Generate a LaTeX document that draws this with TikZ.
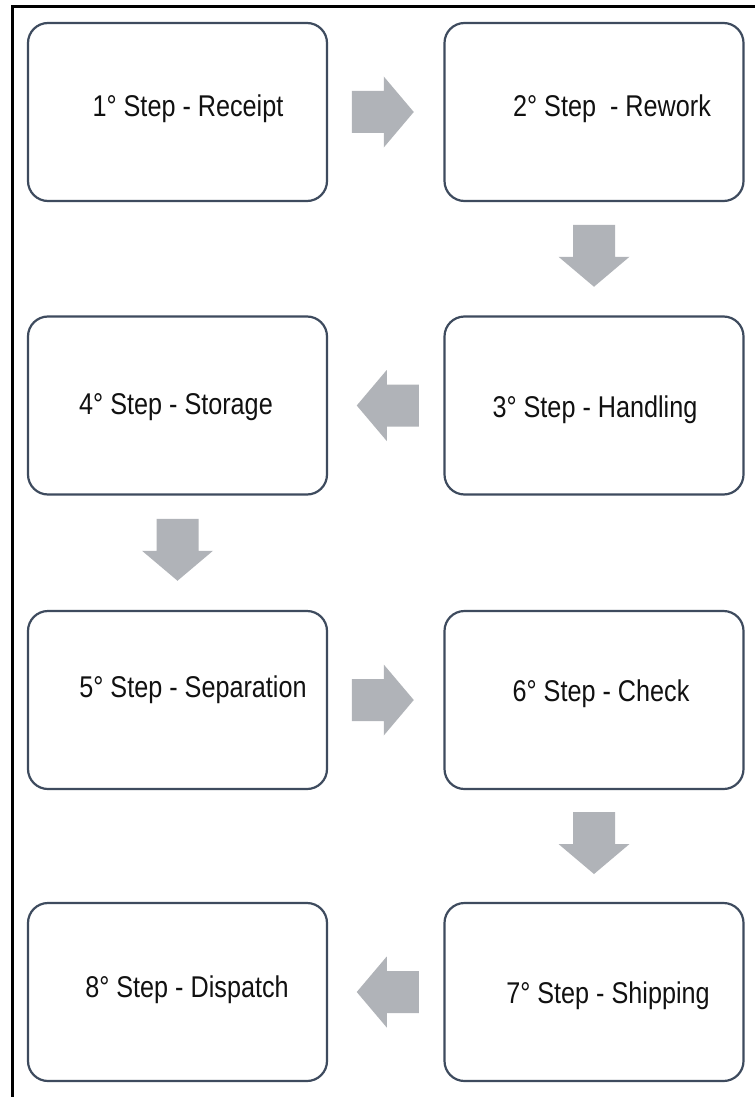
\documentclass[tikz,border=0pt]{standalone}
\usepackage{fontspec}
\usepackage{graphicx}
\setmainfont{Liberation Sans}
\usetikzlibrary{calc}
\definecolor{boxline}{HTML}{3E4B5E}
\definecolor{arrowgrey}{HTML}{B0B3B8}
\definecolor{txt}{HTML}{111111}
\newcommand\blockarrow[2]{\fill[arrowgrey, shift={(#1)}, rotate=#2] (-31,-21) -- (1,-21) -- (1,-35.5) -- (31,0) -- (1,35.5) -- (1,21) -- (-31,21) -- cycle;}
\newcommand\steptext[1]{\scalebox{0.84}[1]{#1}}
\begin{document}
\begin{tikzpicture}[x=1pt,y=-1pt,
  stepbox/.style={draw=boxline, line width=2.2pt, rounded corners=20pt, minimum width=299pt, minimum height=178pt, fill=white},
  steplabel/.style={anchor=base, inner sep=0pt, text=txt, font=\fontsize{30pt}{34pt}\selectfont}]
\useasboundingbox (0,0) rectangle (755,1097);
\fill[white] (0,0) rectangle (755,1097);
\draw[black, line width=3pt] (12,1097) -- (12,7) -- (755,7);
% boxes
\node[stepbox] (b1) at (177.5,112) {};
\node[stepbox] (b2) at (594,112) {};
\node[stepbox] (b3) at (594,405.5) {};
\node[stepbox] (b4) at (177.5,405.5) {};
\node[stepbox] (b5) at (177.5,700) {};
\node[stepbox] (b6) at (594,700) {};
\node[stepbox] (b7) at (594,992) {};
\node[stepbox] (b8) at (177.5,992) {};
% labels
\node[steplabel] (t1) at (188,117) {\steptext{1° Step - Receipt}};
\node[steplabel] (t2) at (612,117) {\steptext{2° Step\ \ - Rework}};
\node[steplabel] (t3) at (595,417) {\steptext{3° Step - Handling}};
\node[steplabel] (t4) at (176,414.5) {\steptext{4° Step - Storage}};
\node[steplabel] (t5) at (193,697.5) {\steptext{5° Step - Separation}};
\node[steplabel] (t6) at (601,701.5) {\steptext{6° Step - Check}};
\node[steplabel] (t7) at (608,1003.5) {\steptext{7° Step - Shipping}};
\node[steplabel] (t8) at (187,997.5) {\steptext{8° Step - Dispatch}};
% arrow positions
\coordinate (m12) at ($(b1.east)!0.5!(b2.west)+(-3,0)$);
\coordinate (m23) at ($(b2.south)!0.5!(b3.north)+(0,-3)$);
\coordinate (m34) at ($(b3.west)!0.5!(b4.east)+(2,0)$);
\coordinate (m45) at ($(b4.south)!0.5!(b5.north)+(0,-3)$);
\coordinate (m56) at ($(b5.east)!0.5!(b6.west)+(-3,0)$);
\coordinate (m67) at ($(b6.south)!0.5!(b7.north)+(0,-3)$);
\coordinate (m78) at ($(b7.west)!0.5!(b8.east)+(2,0)$);
\blockarrow{m12}{0}
\blockarrow{m23}{-90}
\blockarrow{m34}{180}
\blockarrow{m45}{-90}
\blockarrow{m56}{0}
\blockarrow{m67}{-90}
\blockarrow{m78}{180}
\end{tikzpicture}
\end{document}
